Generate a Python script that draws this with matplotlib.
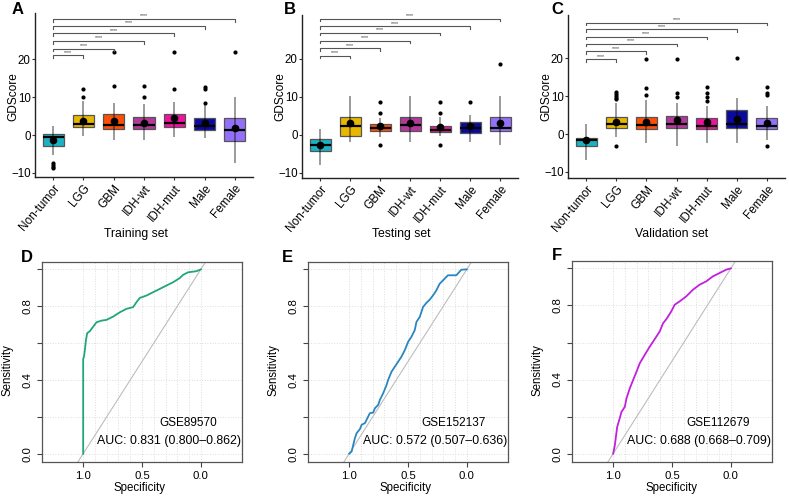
import matplotlib
matplotlib.use('Agg')
import matplotlib.pyplot as plt

plt.rcParams['font.family'] = ['Liberation Sans', 'DejaVu Sans']

W, H = 789, 496

groups = ['Non-tumor', 'LGG', 'GBM', 'IDH-wt', 'IDH-mut', 'Male', 'Female']
box_colors = ['#1BB3C3', '#E7B800', '#FC4E07', '#B2399A', '#F0129E', '#0A0A9E', '#9370FA']

# A - training set
train_q1 = [-2.8, 2.0, 1.5, 1.5, 2.2, 1.3, -1.5]
train_med = [-0.6, 2.9, 2.7, 2.6, 3.1, 2.4, 1.3]
train_q3 = [0.4, 5.3, 5.5, 4.7, 5.7, 4.4, 4.6]
train_lo = [-5.3, -0.3, -1.3, -1.3, -0.4, -0.9, -7.5]
train_hi = [2.4, 9.1, 8.4, 8.2, 8.8, 8.0, 10.0]
train_mean = [-1.3, 3.7, 3.8, 3.3, 4.5, 3.3, 1.9]
train_out = [[-7.5, -8.0, -8.5, -8.8], [10.0, 12.1], [13.0, 21.9], [10.0, 13.0],
             [12.1, 21.9], [8.5, 12.1, 12.7], [21.9]]
train_brackets = [21.1, 22.9, 24.9, 26.9, 28.8, 30.7]

# B - testing set
test_q1 = [-4.2, -0.3, 1.1, 0.9, 0.8, 0.4, 0.9]
test_med = [-2.6, 2.2, 1.8, 2.6, 1.3, 1.8, 1.9]
test_q3 = [-1.1, 4.6, 2.9, 4.7, 2.2, 3.3, 4.8]
test_lo = [-8.1, -1.8, -0.6, -1.8, -0.3, -1.8, -2.8]
test_hi = [1.6, 10.1, 4.5, 10.1, 4.8, 5.3, 10.1]
test_mean = [-2.6, 3.1, 2.2, 3.1, 2.0, 2.2, 3.1]
test_out = [[], [], [5.7, 8.6, -2.8], [], [5.7, 8.6, -2.8], [8.6], [18.8]]
test_brackets = [20.9, 22.8, 24.8, 26.9, 28.6, 30.6]

# C - validation set
val_q1 = [-3.1, 1.6, 1.3, 1.6, 1.3, 1.6, 1.3]
val_med = [-1.5, 2.6, 2.4, 2.7, 2.2, 2.65, 2.2]
val_q3 = [-1.0, 4.6, 4.4, 4.8, 4.2, 6.3, 4.1]
val_lo = [-6.9, -0.8, -2.4, -3.1, -2.4, -2.4, -1.5]
val_hi = [2.6, 8.3, 9.0, 8.3, 7.3, 9.4, 7.3]
val_mean = [-1.7, 3.3, 3.3, 3.8, 3.1, 4.0, 2.9]
val_out = [[], [9.2, 9.6, 10.0, 10.5, 11.0, -3.1], [10.3, 12.1, 19.9], [9.9, 10.7, 19.9],
           [8.8, 9.8, 10.7, 12.4], [20.0], [10.2, 10.7, 12.4, -3.1]]
val_brackets = [19.7, 21.8, 23.8, 25.7, 27.6, 29.4]

# ROC curves (specificity, sensitivity)
d_spec = [1.0, 1.0, 0.994, 0.986, 0.977, 0.966, 0.943, 0.929, 0.887, 0.844, 0.802, 0.745,
          0.689, 0.632, 0.576, 0.547, 0.519, 0.462, 0.406, 0.349, 0.293, 0.236, 0.179,
          0.151, 0.109, 0.038, 0.01, 0.0]
d_sens = [0.0, 0.515, 0.524, 0.56, 0.614, 0.654, 0.665, 0.677, 0.713, 0.722, 0.726, 0.744,
          0.767, 0.786, 0.795, 0.822, 0.845, 0.858, 0.876, 0.894, 0.912, 0.93, 0.953,
          0.97, 0.984, 0.99, 0.997, 1.0]
e_spec = [1.0, 0.979, 0.965, 0.951, 0.936, 0.908, 0.894, 0.866, 0.838, 0.824, 0.796, 0.781,
          0.753, 0.739, 0.711, 0.682, 0.669, 0.64, 0.612, 0.584, 0.556, 0.527, 0.499, 0.471,
          0.443, 0.428, 0.4, 0.372, 0.344, 0.315, 0.287, 0.259, 0.231, 0.174, 0.16, 0.089,
          0.047, 0.0]
e_sens = [0.0, 0.012, 0.049, 0.085, 0.112, 0.134, 0.157, 0.166, 0.202, 0.22, 0.223, 0.247,
          0.265, 0.292, 0.328, 0.373, 0.4, 0.445, 0.472, 0.499, 0.526, 0.562, 0.607, 0.634,
          0.67, 0.715, 0.742, 0.796, 0.818, 0.836, 0.859, 0.886, 0.922, 0.959, 0.968, 0.968,
          0.998, 1.0]
f_spec = [1.0, 0.986, 0.977, 0.966, 0.949, 0.929, 0.901, 0.887, 0.859, 0.831, 0.802, 0.774,
          0.732, 0.689, 0.647, 0.605, 0.576, 0.548, 0.506, 0.477, 0.435, 0.379, 0.322, 0.266,
          0.209, 0.153, 0.096, 0.04, 0.0]
f_sens = [0.0, 0.045, 0.09, 0.144, 0.181, 0.226, 0.253, 0.298, 0.352, 0.397, 0.442, 0.488,
          0.533, 0.578, 0.618, 0.659, 0.704, 0.726, 0.768, 0.804, 0.822, 0.849, 0.885, 0.912,
          0.93, 0.957, 0.975, 0.993, 1.0]


def px_axes(fig, left, top, right, bottom):
    return fig.add_axes([left / W, 1 - bottom / H, (right - left) / W, (bottom - top) / H])


def box_panel(ax, q1, med, q3, lo, hi, mean, outl, brackets, ylim):
    stats = []
    for i in range(len(groups)):
        stats.append(dict(q1=q1[i], med=med[i], q3=q3[i], whislo=lo[i], whishi=hi[i],
                          fliers=outl[i], mean=mean[i]))
    pos = list(range(len(groups)))
    bp = ax.bxp(stats, positions=pos, widths=0.7, patch_artist=True, showcaps=False,
                boxprops=dict(edgecolor='#555555', linewidth=0.9),
                medianprops=dict(color='black', linewidth=1.6),
                whiskerprops=dict(linewidth=0),
                flierprops=dict(marker='o', markerfacecolor='black', markeredgecolor='none',
                                markersize=3))
    for patch, c in zip(bp['boxes'], box_colors):
        patch.set_facecolor(c)
    ax.vlines(pos, lo, hi, colors='black', alpha=0.5, linewidth=1.1, zorder=3)
    ax.plot(pos, mean, 'o', color='black', markersize=4.5, zorder=4)
    for j, y in enumerate(brackets):
        x2 = j + 1
        ax.plot([0, 0, x2, x2], [y - 0.7, y, y, y - 0.7], color='#555555', linewidth=0.8)
        ax.text(x2 / 2, y + 0.2, '****', ha='center', va='bottom', fontsize=3.8, color='#333333')
    ax.set_xlim(-0.6, 6.6)
    ax.set_ylim(*ylim)
    ax.set_yticks([-10, 0, 10, 20])
    ax.set_xticks(pos)
    ax.set_xticklabels(groups, rotation=50, ha='right', va='top', rotation_mode='anchor')
    ax.tick_params(axis='y', labelsize=8.3, length=2.3, width=0.8, color='#333333', pad=0.8)
    ax.tick_params(axis='x', labelsize=8.5, length=2.3, width=0.8, color='#333333', pad=1.5)
    for s in ['top', 'right']:
        ax.spines[s].set_visible(False)
    for s in ['left', 'bottom']:
        ax.spines[s].set_linewidth(1.0)
        ax.spines[s].set_color('#222222')


def roc_panel(ax, spec, sens, color, name, auc_text):
    ax.set_xlim(1.35, -0.35)
    ax.set_ylim(-0.045, 1.04)
    for v in [i / 10 for i in range(11)]:
        ax.axvline(v, color='#DDDDDD', linestyle=':', linewidth=0.7, zorder=0)
    for v in [0, 0.2, 0.4, 0.6, 0.8, 1.0]:
        ax.axhline(v, color='#DDDDDD', linestyle=':', linewidth=0.7, zorder=0)
    ax.axline((1, 0), (0, 1), color='#BDBDBD', linewidth=0.8)
    ax.plot(spec, sens, color=color, linewidth=1.3)
    ax.set_xticks([1.0, 0.5, 0.0])
    ax.set_xticklabels(['1.0', '0.5', '0.0'])
    ax.set_yticks([0, 0.2, 0.4, 0.6, 0.8, 1.0])
    ax.set_yticklabels(['0.0', '', '0.4', '', '0.8', ''], rotation=90, va='center')
    ax.tick_params(labelsize=8.2, length=3.7, width=0.8, color='#444444', pad=3)
    for s in ax.spines.values():
        s.set_linewidth(0.9)
        s.set_color('#555555')
    ax.text(0.11, 0.168, name, ha='center', va='center', fontsize=8.5)
    ax.text(0.27, 0.07, auc_text, ha='center', va='center', fontsize=8.9)


fig = plt.figure(figsize=(W / 100, H / 100), dpi=100)

ax_a = px_axes(fig, 35, 13, 253, 177)
box_panel(ax_a, train_q1, train_med, train_q3, train_lo, train_hi, train_mean, train_out,
          train_brackets, (-11.1, 32.3))
ax_b = px_axes(fig, 302, 15, 518, 178)
box_panel(ax_b, test_q1, test_med, test_q3, test_lo, test_hi, test_mean, test_out,
          test_brackets, (-11.4, 31.6))
ax_c = px_axes(fig, 568, 15, 785, 178)
box_panel(ax_c, val_q1, val_med, val_q3, val_lo, val_hi, val_mean, val_out,
          val_brackets, (-11.6, 31.4))

for x, txt in [(136, 'Training set'), (401, 'Testing set'), (672, 'Validation set')]:
    fig.text(x / W, 1 - 234 / H, txt, ha='center', va='center', fontsize=8.8)
for x in [13, 280, 546]:
    fig.text(x / W, 1 - 97 / H, 'GDScore', ha='center', va='center', rotation=90, fontsize=8.6)

ax_d = px_axes(fig, 42, 262, 242, 462)
roc_panel(ax_d, d_spec, d_sens, '#21A676', 'GSE89570', 'AUC: 0.831 (0.800\u20130.862)')
ax_e = px_axes(fig, 308, 262, 508, 462)
roc_panel(ax_e, e_spec, e_sens, '#2A86BF', 'GSE152137', 'AUC: 0.572 (0.507\u20130.636)')
ax_f = px_axes(fig, 572, 261, 772, 462)
roc_panel(ax_f, f_spec, f_sens, '#C21FDF', 'GSE112679', 'AUC: 0.688 (0.668\u20130.709)')

for x0 in [140, 406, 672]:
    fig.text(x0 / W, 1 - 488 / H, 'Specificity', ha='center', va='center', fontsize=8.3)
for x0 in [8, 274, 538]:
    fig.text(x0 / W, 1 - 370 / H, 'Sensitivity', ha='center', va='center', rotation=90, fontsize=8.3)

for x, y, letter in [(18, 10, 'A'), (290, 10, 'B'), (557, 10, 'C'),
                     (27, 257, 'D'), (287, 257, 'E'), (557, 255, 'F')]:
    fig.text(x / W, 1 - y / H, letter, ha='center', va='center', fontsize=12, fontweight='bold')

fig.savefig('out.png', dpi=100)
